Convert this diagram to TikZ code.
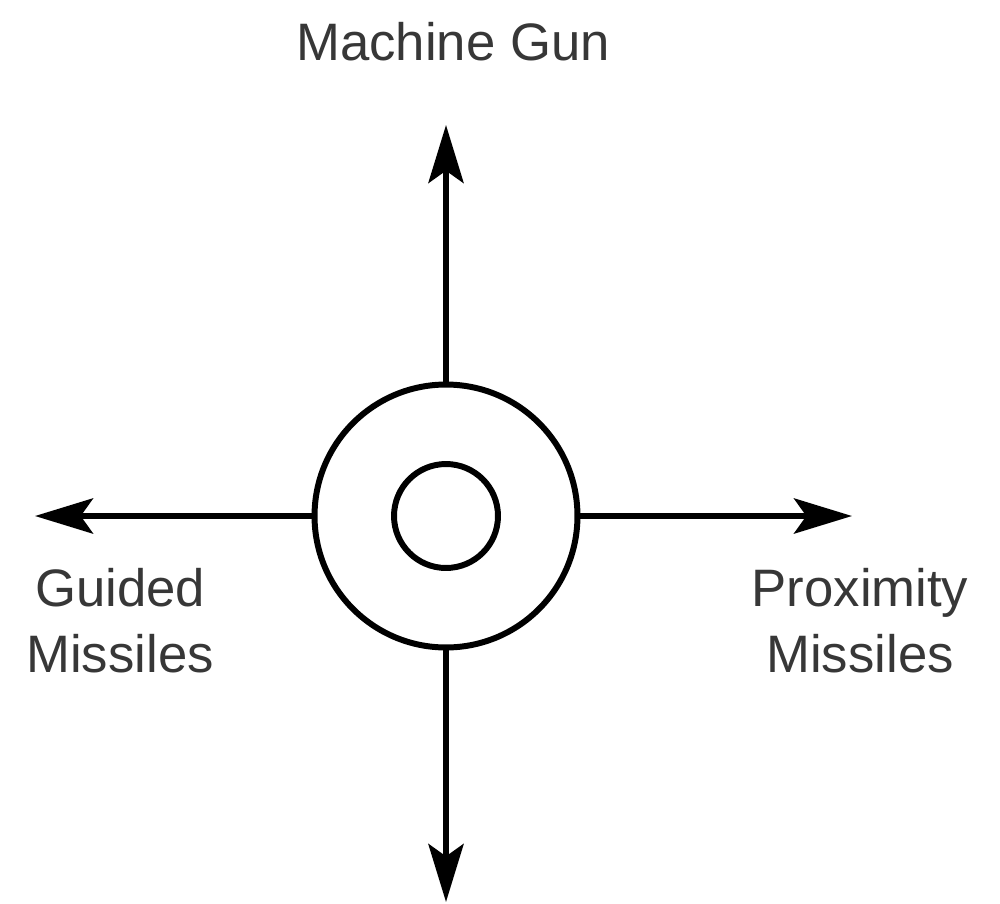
\documentclass[tikz,border=0pt]{standalone}
\usepackage{fontspec}
\setmainfont{Liberation Sans}
\usetikzlibrary{arrows.meta, positioning}

\definecolor{labelgray}{RGB}{55,55,55}

\begin{document}
\begin{tikzpicture}[x=0.02cm, y=-0.02cm,
    font=\fontsize{30}{37.6}\selectfont,
    ringline/.style={draw, circle, line width=3.4pt, inner sep=0pt},
    axisarrow/.style={line width=3.4pt, -{Stealth[length=33pt, width=20pt, inset=7pt]}},
    weaponlabel/.style={text=labelgray, align=center}]

\useasboundingbox (0,0) rectangle (1000,903);

% Target rings in the middle
\node[ringline, minimum size=5.26cm] (ring) at (446,516) {};
\node[ringline, minimum size=2.08cm] (hub) at (446,516) {};

% Arrow ends
\coordinate (gunend) at (446,125);
\coordinate (guidedend) at (35,516);
\coordinate (proxend) at (852,516);
\coordinate (downend) at (446,902);

% Arrows out of the outer ring
\draw[axisarrow] (ring.north) -- (gunend);
\draw[axisarrow] (ring.west) -- (guidedend);
\draw[axisarrow] (ring.east) -- (proxend);
\draw[axisarrow] (ring.south) -- (downend);

% Labels
\node[weaponlabel] (gun) at (453,42) {Machine Gun};
\node[weaponlabel] (guided) at (120,621) {Guided\\Missiles};
\node[weaponlabel] (prox) at (860,621) {Proximity\\Missiles};

\end{tikzpicture}
\end{document}
